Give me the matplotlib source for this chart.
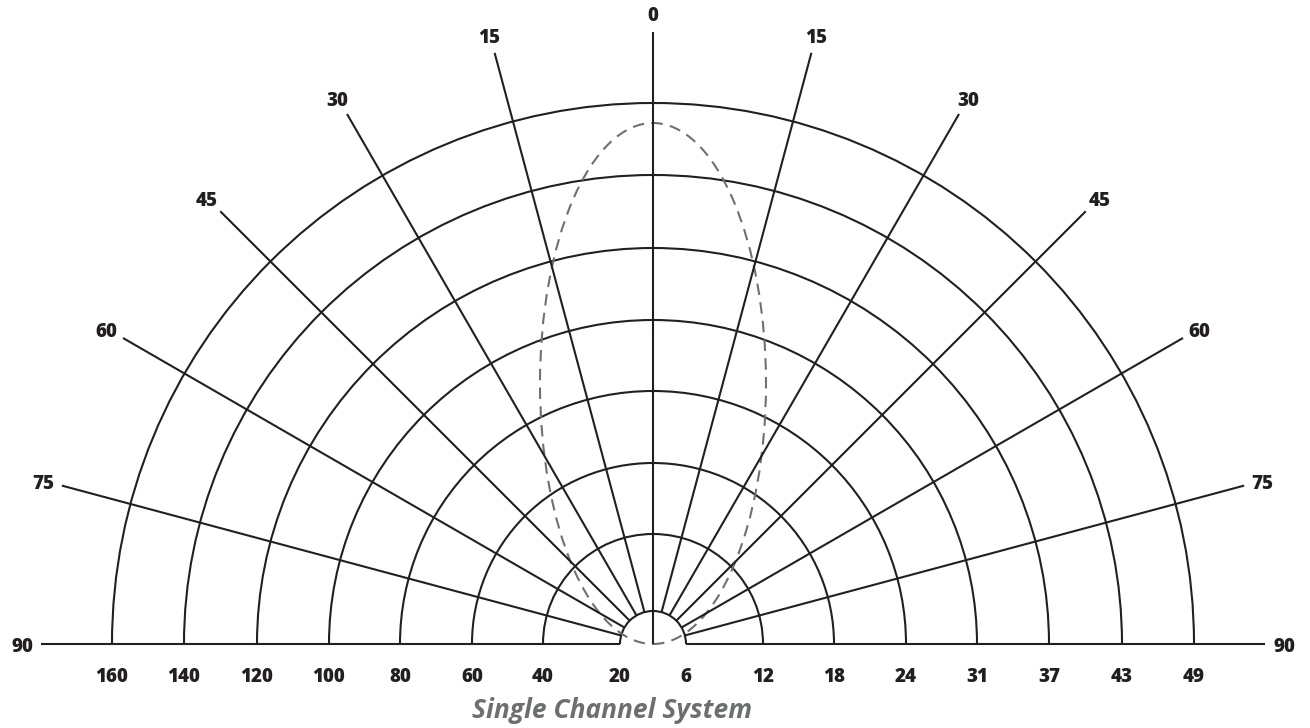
import matplotlib.pyplot as plt
from matplotlib.patches import Arc, Ellipse
import numpy as np

# ring radii (drawing units), ring labels on each side of the baseline
ring_radius = [33, 110, 181, 253, 324, 396, 469, 541]
left_labels = ['20', '40', '60', '80', '100', '120', '140', '160']
right_labels = ['6', '12', '18', '24', '31', '37', '43', '49']

# angle spokes, degrees from vertical
angles = [0, 15, 30, 45, 60, 75, 90]
spoke_start = 33
spoke_end = 612
label_r = 631

# beam lobe (dashed): width and length
beam_width = 226
beam_length = 521

ink = '#231f20'
lw = 1.5
lab_kw = dict(ha='center', va='center', fontsize=13.5, fontweight='heavy',
              family='Open Sans', color=ink)

fig = plt.figure(figsize=(13.1, 7.28), dpi=100)
ax = fig.add_axes([0, 0, 1, 1])
ax.set_xlim(-653, 657)
ax.set_ylim(-84, 644)
ax.set_aspect('equal')
ax.axis('off')

for r in ring_radius:
    ax.add_patch(Arc((0, 0), 2 * r, 2 * r, theta1=0, theta2=180, color=ink, lw=lw))

for a in angles:
    for side in (-1, 1):
        t = np.radians(90 - side * a)
        r0 = 0 if a == 0 else spoke_start
        ax.plot([r0 * np.cos(t), spoke_end * np.cos(t)], [r0 * np.sin(t), spoke_end * np.sin(t)],
                color=ink, lw=lw, solid_capstyle='butt')
        ax.text(label_r * np.cos(t), label_r * np.sin(t) - 3, str(a), **lab_kw)
        if a == 0:
            break

ax.add_patch(Ellipse((0, beam_length / 2), beam_width, beam_length, fill=False,
                     edgecolor='#707070', lw=lw, ls=(0, (5.5, 3.5))))

for r, lab in zip(ring_radius, left_labels):
    ax.text(-r, -33, lab, **lab_kw)
for r, lab in zip(ring_radius, right_labels):
    ax.text(r, -33, lab, **lab_kw)

ax.text(-41, -66, 'Single Channel System', ha='center', va='center', fontsize=19,
        fontweight='bold', style='italic', family='Open Sans', color='#6d6e70')

fig.savefig('out.png', dpi=100)
